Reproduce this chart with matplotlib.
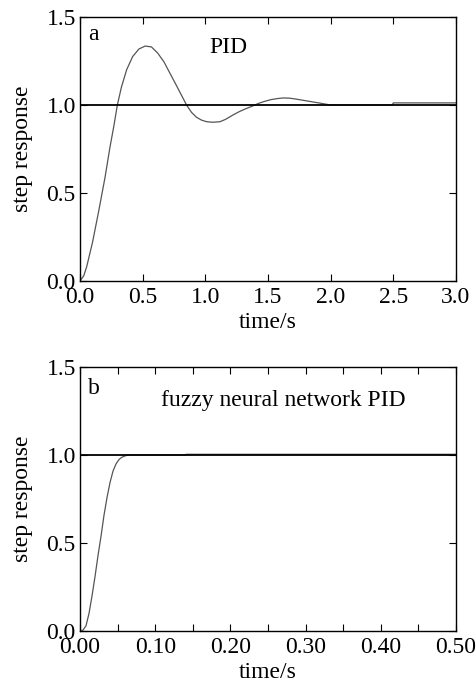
import matplotlib
matplotlib.use("Agg")
import matplotlib.pyplot as plt
from matplotlib.ticker import MultipleLocator, FormatStrFormatter

plt.rcParams['font.family'] = ['Liberation Serif', 'DejaVu Serif']

# Panel a: PID step response
pid_t = [0.0, 0.03, 0.053, 0.1, 0.15, 0.2, 0.239, 0.27, 0.298, 0.33, 0.372, 0.42, 0.47,
         0.52, 0.57, 0.62, 0.67, 0.718, 0.77, 0.81, 0.85, 0.89, 0.93, 0.97, 1.01, 1.06,
         1.117, 1.16, 1.22, 1.27, 1.32, 1.37, 1.42, 1.47, 1.52, 1.57, 1.62, 1.67, 1.72,
         1.77, 1.82, 1.87, 1.92, 1.96, 2.0, 2.49, 2.5, 3.0]
pid_y = [0.0, 0.03, 0.08, 0.22, 0.40, 0.59, 0.76, 0.88, 1.0, 1.1, 1.2, 1.275, 1.318,
         1.335, 1.33, 1.295, 1.245, 1.18, 1.11, 1.055, 1.0, 0.958, 0.93, 0.914, 0.905, 0.902,
         0.905, 0.918, 0.943, 0.962, 0.978, 0.992, 1.008, 1.02, 1.03, 1.036, 1.04, 1.039, 1.034,
         1.028, 1.022, 1.016, 1.01, 1.005, 1.0, 1.0, 1.012, 1.012]

# Panel b: fuzzy neural network PID step response
fnn_t = [0.0, 0.004, 0.008, 0.012, 0.016, 0.02, 0.024, 0.028, 0.032, 0.036, 0.040,
         0.044, 0.048, 0.052, 0.056, 0.06, 0.064, 0.14, 0.141, 0.5]
fnn_y = [0.0, 0.005, 0.03, 0.10, 0.20, 0.31, 0.43, 0.54, 0.66, 0.76, 0.845,
         0.91, 0.95, 0.975, 0.988, 0.995, 1.0, 1.0, 1.004, 1.004]

setpoint = 1.0

W, H = 476, 684
fig = plt.figure(figsize=(W / 100, H / 100), dpi=100)

def make_axes(x0, y0, x1, y1):
    return fig.add_axes([x0 / W, 1 - y1 / H, (x1 - x0) / W, (y1 - y0) / H])

fs = 17
ax1 = make_axes(80, 17, 456, 281)
ax2 = make_axes(80, 367, 456, 631)

for ax in (ax1, ax2):
    for s in ax.spines.values():
        s.set_linewidth(1.0)
        s.set_color('black')
    ax.tick_params(which='both', direction='in', top=True, right=True,
                   length=5, width=0.8, labelsize=fs)
    ax.tick_params(axis='x', pad=4)
    ax.tick_params(axis='y', pad=3)
    ax.set_ylim(0, 1.5)
    ax.yaxis.set_major_locator(MultipleLocator(0.5))
    ax.yaxis.set_major_formatter(FormatStrFormatter('%.1f'))
    ax.set_ylabel('step response', fontsize=fs, labelpad=10)
    ax.set_xlabel('time/s', fontsize=fs, labelpad=3)

ax1.plot(pid_t, pid_y, color='#555555', lw=0.9)
ax1.axhline(setpoint, color='black', lw=1.3)
ax1.set_xlim(0, 3.0)
ax1.xaxis.set_major_locator(MultipleLocator(0.5))
ax1.xaxis.set_major_formatter(FormatStrFormatter('%.1f'))
ax1.text(0.021, 0.913, 'a', transform=ax1.transAxes, fontsize=fs, va='baseline', ha='left')
ax1.text(0.396, 0.862, 'PID', transform=ax1.transAxes, fontsize=fs, va='baseline', ha='center')

ax2.plot(fnn_t, fnn_y, color='#555555', lw=0.9)
ax2.axhline(setpoint, color='black', lw=1.3)
ax2.set_xlim(0, 0.5)
ax2.xaxis.set_major_locator(MultipleLocator(0.1))
ax2.xaxis.set_minor_locator(MultipleLocator(0.05))
ax2.xaxis.set_major_formatter(FormatStrFormatter('%.2f'))
ax2.text(0.021, 0.898, 'b', transform=ax2.transAxes, fontsize=fs, va='baseline', ha='left')
ax2.text(0.54, 0.854, 'fuzzy neural network PID', transform=ax2.transAxes, fontsize=fs,
         va='baseline', ha='center')

fig.savefig('out.png', dpi=100)
